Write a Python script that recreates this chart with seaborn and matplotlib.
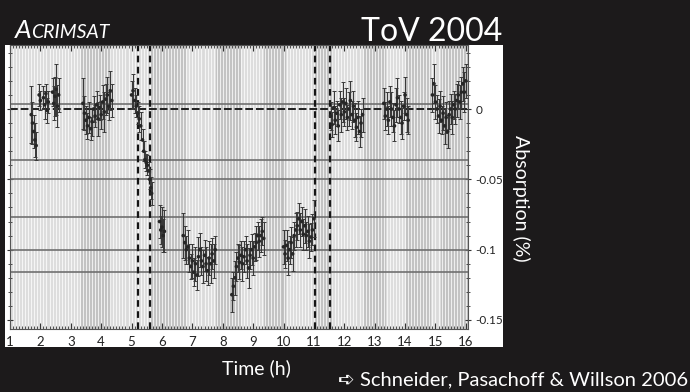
import matplotlib
matplotlib.use("Agg")
import matplotlib.pyplot as plt
from matplotlib.patches import Rectangle
from matplotlib.ticker import MultipleLocator
import seaborn as sns
import numpy as np

# ---------------- data ----------------
# time in hours (UT), absorption in %, error (half-length) in %
seg_a_t = [1.70, 1.74, 1.78, 1.82, 1.86, 1.96, 2.00, 2.10, 2.14, 2.18, 2.22, 2.26, 2.40, 2.44, 2.48, 2.52, 2.56, 2.60]
seg_a_y = [-0.004, -0.010, -0.016, -0.022, -0.026, 0.010, 0.006, 0.008, 0.003, 0.011, -0.001, 0.005, 0.012, 0.004, 0.009, 0.014, 0.002, 0.010]
seg_a_e = [0.020, 0.015, 0.012, 0.012, 0.010, 0.008, 0.007, 0.008, 0.010, 0.007, 0.009, 0.008, 0.010, 0.012, 0.014, 0.018, 0.015, 0.012]

seg_b_t = [3.40, 3.45, 3.50, 3.55, 3.60, 3.65, 3.70, 3.75, 3.80, 3.85, 3.90, 3.95, 4.00, 4.05, 4.10, 4.15, 4.20, 4.25, 4.30, 4.35]
seg_b_y = [0.004, -0.003, -0.008, -0.012, -0.006, -0.014, -0.009, 0.000, -0.005, 0.003, -0.007, 0.001, -0.004, 0.005, -0.002, 0.007, 0.010, 0.002, 0.013, 0.006]
seg_b_e = [0.018, 0.012, 0.010, 0.009, 0.011, 0.008, 0.010, 0.009, 0.008, 0.010, 0.012, 0.009, 0.010, 0.012, 0.014, 0.011, 0.013, 0.010, 0.014, 0.012]

seg_c_t = [5.00, 5.05, 5.10, 5.15, 5.20, 5.25, 5.30]
seg_c_y = [0.010, 0.013, 0.006, 0.002, -0.003, -0.007, -0.012]
seg_c_e = [0.010, 0.012, 0.009, 0.008, 0.008, 0.009, 0.010]

seg_d_t = [5.36, 5.40, 5.44, 5.48, 5.52, 5.56, 5.60, 5.63, 5.66]
seg_d_y = [-0.022, -0.030, -0.036, -0.038, -0.040, -0.044, -0.050, -0.056, -0.060]
seg_d_e = [0.008, 0.007, 0.006, 0.006, 0.007, 0.006, 0.007, 0.008, 0.008]

seg_e_t = [5.92, 5.96, 6.00, 6.04, 6.08]
seg_e_y = [-0.080, -0.086, -0.084, -0.090, -0.087]
seg_e_e = [0.012, 0.010, 0.014, 0.012, 0.015]

seg_f_t = [6.70, 6.75, 6.80, 6.85, 6.90, 6.95, 7.00, 7.05, 7.10, 7.15, 7.20, 7.25, 7.30, 7.35, 7.40, 7.45, 7.50, 7.55, 7.60, 7.65, 7.70, 7.75]
seg_f_y = [-0.090, -0.095, -0.100, -0.098, -0.106, -0.112, -0.108, -0.116, -0.110, -0.118, -0.105, -0.100, -0.108, -0.112, -0.104, -0.110, -0.115, -0.106, -0.110, -0.103, -0.108, -0.100]
seg_f_e = [0.016, 0.012, 0.010, 0.012, 0.010, 0.009, 0.012, 0.010, 0.012, 0.011, 0.014, 0.012, 0.010, 0.012, 0.011, 0.012, 0.010, 0.012, 0.014, 0.011, 0.012, 0.010]

seg_g_t = [8.30, 8.35, 8.40, 8.45, 8.50, 8.55, 8.60, 8.65, 8.70, 8.75, 8.80, 8.85, 8.90, 8.95, 9.00, 9.05, 9.10, 9.15, 9.20, 9.25, 9.30, 9.35]
seg_g_y = [-0.132, -0.126, -0.120, -0.112, -0.106, -0.109, -0.104, -0.110, -0.105, -0.100, -0.108, -0.113, -0.104, -0.100, -0.106, -0.098, -0.095, -0.090, -0.094, -0.090, -0.087, -0.092]
seg_g_e = [0.012, 0.010, 0.012, 0.010, 0.010, 0.012, 0.010, 0.012, 0.011, 0.010, 0.012, 0.014, 0.010, 0.011, 0.012, 0.010, 0.012, 0.010, 0.011, 0.012, 0.010, 0.012]

seg_h_t = [10.00, 10.05, 10.10, 10.15, 10.20, 10.25, 10.30, 10.35, 10.40, 10.45, 10.50, 10.55, 10.60, 10.65, 10.70, 10.75, 10.80, 10.85, 10.90, 10.95, 11.00]
seg_h_y = [-0.098, -0.103, -0.097, -0.106, -0.100, -0.095, -0.103, -0.090, -0.086, -0.083, -0.078, -0.086, -0.080, -0.089, -0.083, -0.090, -0.087, -0.094, -0.091, -0.086, -0.078]
seg_h_e = [0.012, 0.010, 0.011, 0.012, 0.010, 0.011, 0.012, 0.010, 0.012, 0.010, 0.011, 0.012, 0.010, 0.011, 0.012, 0.010, 0.011, 0.012, 0.010, 0.011, 0.013]

seg_i_t = [11.55, 11.60, 11.65, 11.70, 11.75, 11.80, 11.85, 11.90, 11.95, 12.00, 12.05, 12.10, 12.15, 12.20, 12.25, 12.30, 12.35, 12.40, 12.45, 12.50, 12.55, 12.60]
seg_i_y = [-0.005, -0.011, 0.001, -0.008, -0.003, -0.012, 0.003, -0.004, 0.005, -0.002, 0.004, -0.006, 0.000, 0.006, -0.004, 0.002, -0.008, -0.013, -0.006, -0.016, -0.010, -0.004]
seg_i_e = [0.010, 0.009, 0.012, 0.010, 0.009, 0.011, 0.010, 0.012, 0.014, 0.010, 0.011, 0.009, 0.012, 0.014, 0.010, 0.011, 0.012, 0.010, 0.012, 0.011, 0.010, 0.012]

seg_j_t = [13.30, 13.35, 13.40, 13.45, 13.50, 13.55, 13.60, 13.65, 13.70, 13.75, 13.80, 13.85, 13.90, 13.95, 14.00, 14.05, 14.10]
seg_j_y = [0.004, -0.005, 0.000, -0.008, 0.005, 0.000, -0.006, -0.012, 0.003, 0.008, 0.000, -0.006, -0.010, 0.002, 0.010, -0.004, -0.008]
seg_j_e = [0.011, 0.010, 0.012, 0.010, 0.011, 0.012, 0.010, 0.011, 0.012, 0.014, 0.010, 0.012, 0.011, 0.010, 0.013, 0.012, 0.010]

seg_k_t = [14.90, 14.95, 15.00, 15.05, 15.10, 15.15, 15.20, 15.25, 15.30, 15.35, 15.40, 15.45, 15.50, 15.55, 15.60, 15.65, 15.70, 15.75, 15.80, 15.85, 15.90, 15.95, 16.00]
seg_k_y = [0.010, 0.018, 0.005, 0.000, -0.005, 0.002, -0.008, -0.003, -0.012, -0.006, -0.016, -0.004, 0.000, -0.006, 0.003, 0.000, 0.006, 0.010, 0.005, 0.012, 0.018, 0.012, 0.020]
seg_k_e = [0.012, 0.014, 0.012, 0.010, 0.012, 0.011, 0.010, 0.012, 0.013, 0.011, 0.012, 0.010, 0.011, 0.012, 0.010, 0.011, 0.012, 0.010, 0.012, 0.011, 0.012, 0.014, 0.012]

# shaded (darker) background bands, hours
band_start = [3.34, 5.64, 7.78, 9.36, 11.00, 12.64, 14.03, 15.18]
band_end = [4.32, 6.79, 8.60, 10.08, 11.62, 13.37, 14.85, 16.07]

# reference levels
contact_times = [5.21, 5.62, 11.03, 11.52]
level_lines = [0.0038, -0.036, -0.050, -0.0766, -0.100, -0.116]

x_ticks = list(range(1, 17))
y_ticks = [0, -0.05, -0.1, -0.15]
y_tick_labels = ["0", "-0.05", "-0.1", "-0.15"]

# ---------------- figure ----------------
sns.set_theme(style="white")
plt.rcParams["font.family"] = ["Lato", "DejaVu Sans"]
plt.rcParams["axes.unicode_minus"] = False

W, H = 690, 392
bg = "#1c1a1b"
fig = plt.figure(figsize=(W / 100, H / 100), dpi=100, facecolor=bg)

# white panel behind plot and tick labels
fig.patches.append(Rectangle((5 / W, 1 - 347 / H), 498 / W, 302 / H,
                             transform=fig.transFigure, facecolor="white",
                             edgecolor="none", zorder=-10))

ax = fig.add_axes([10 / W, 1 - 329 / H, 458 / W, 284 / H])
ax.set_zorder(1)
ax.set_facecolor("#dadada")

for s, e in zip(band_start, band_end):
    ax.axvspan(s, e, color="#bdbdbd", lw=0, zorder=0)

ax.set_xlim(1.0, 16.07)
ax.set_ylim(-0.1564, 0.0455)

ax.xaxis.set_minor_locator(MultipleLocator(0.1))
ax.yaxis.set_minor_locator(MultipleLocator(0.01))
ax.set_axisbelow(True)
ax.grid(which="minor", axis="x", color="white", lw=0.9, alpha=0.75)
ax.grid(which="major", axis="x", color="white", lw=0.9, alpha=0.75)

for v in level_lines:
    ax.axhline(v, color="#707070", lw=1.2, zorder=1)
ax.axhline(0, color="#202020", lw=1.4, ls=(0, (4, 1.5)), zorder=1)
for v in contact_times:
    ax.axvline(v, color="#151515", lw=1.6, ls=(0, (3, 2)), zorder=2)

t_all = seg_a_t + seg_b_t + seg_c_t + seg_d_t + seg_e_t + seg_f_t + seg_g_t + seg_h_t + seg_i_t + seg_j_t + seg_k_t
y_all = seg_a_y + seg_b_y + seg_c_y + seg_d_y + seg_e_y + seg_f_y + seg_g_y + seg_h_y + seg_i_y + seg_j_y + seg_k_y
e_all = seg_a_e + seg_b_e + seg_c_e + seg_d_e + seg_e_e + seg_f_e + seg_g_e + seg_h_e + seg_i_e + seg_j_e + seg_k_e

ax.errorbar(t_all, y_all, yerr=e_all, fmt="none", ecolor="#3a3a3a",
            elinewidth=0.8, capsize=1.3, capthick=0.7, zorder=3)
sns.scatterplot(x=t_all, y=y_all, s=7, color="#262626", edgecolor="none",
                ax=ax, zorder=4)

ax.yaxis.tick_right()
ax.set_yticks(y_ticks)
ax.set_yticklabels(y_tick_labels)
ax.set_xticks(x_ticks)
ax.set_xticklabels([str(v) for v in x_ticks])
ax.tick_params(axis="x", which="both", direction="in", top=True, bottom=True,
               colors="#333333", labelcolor="#222222", labelsize=9.5, pad=5)
ax.tick_params(axis="x", which="major", length=4, width=0.8)
ax.tick_params(axis="x", which="minor", length=2, width=0.6)
ax.tick_params(axis="y", which="both", direction="inout", right=True, left=True,
               colors="#333333", labelcolor="#222222", labelsize=8.5, pad=3)
ax.tick_params(axis="y", which="major", length=5, width=0.8)
ax.tick_params(axis="y", which="minor", length=3, width=0.6)
ax.set_xlabel("")
ax.set_ylabel("")
for sp in ax.spines.values():
    sp.set_color("#555555")
    sp.set_linewidth(0.8)

# ---------------- texts ----------------
fig.text(502 / W, 1 - 41 / H, "ToV 2004", ha="right", va="baseline",
         color="white", fontsize=23)

t1 = fig.text(15 / W, 1 - 38 / H, "A", ha="left", va="baseline",
              color="white", fontsize=19, style="italic")
fig.canvas.draw()
bb = t1.get_window_extent()
fig.text(bb.x1 / W - 0.5 / W, 1 - 38 / H, "CRIMSAT", ha="left", va="baseline",
         color="white", fontsize=14, style="italic")

fig.text(256 / W, 1 - 368 / H, "Time (h)", ha="center", va="center",
         color="white", fontsize=14)
fig.text(521 / W, 1 - 198 / H, "Absorption (%)", ha="center", va="center",
         rotation=270, color="white", fontsize=14)
fig.text(688 / W, 1 - 380 / H, "➪ Schneider, Pasachoff & Willson 2006",
         ha="right", va="center", color="white", fontsize=14.5)

fig.savefig("out.png", dpi=100, facecolor=bg)
